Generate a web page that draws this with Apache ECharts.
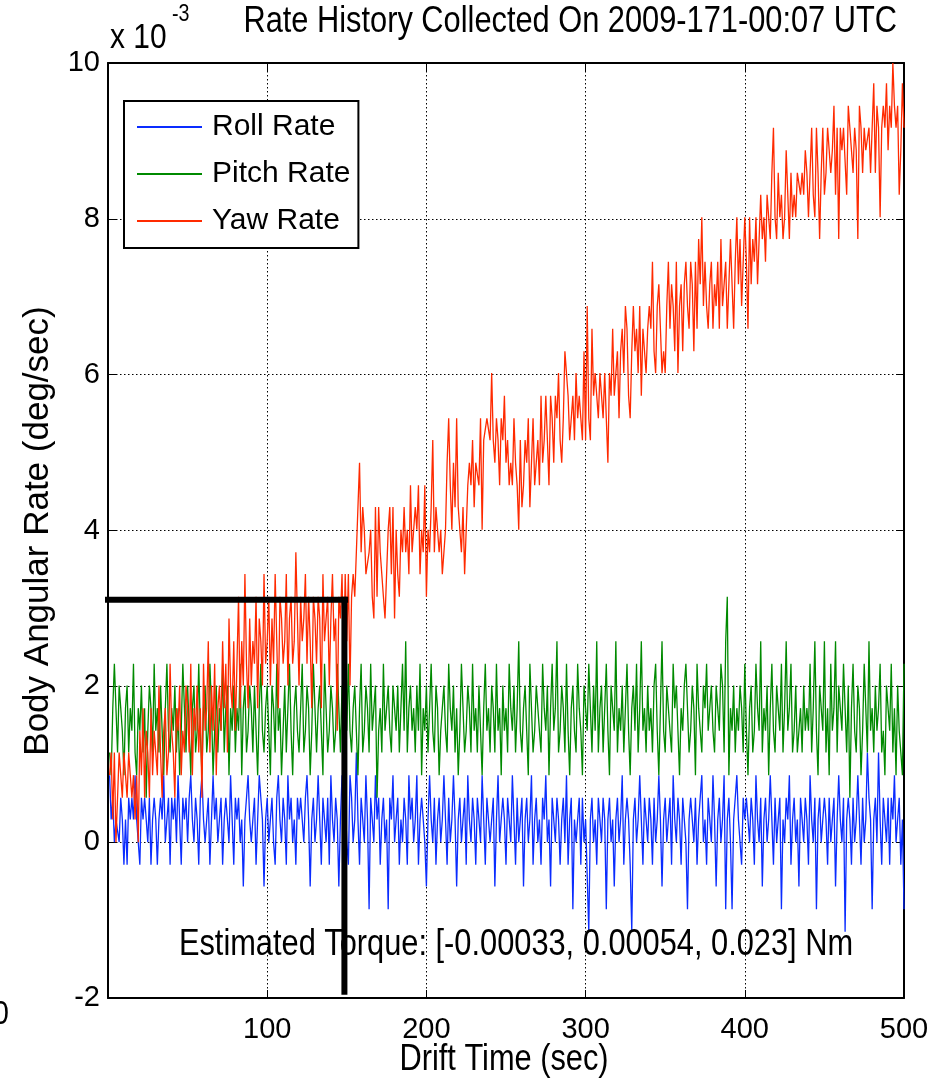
<!DOCTYPE html>
<html>
<head>
<meta charset="utf-8">
<script src="https://cdn.jsdelivr.net/npm/echarts@6/dist/echarts.min.js"></script>
<style>
html,body{margin:0;padding:0;background:#fff;}
#chart{width:948px;height:1081px;}
</style>
</head>
<body>
<div id="chart"></div>
<script>
// ---- Data (units: 1e-3 deg/sec), one sample per second, t = 1..500 ----
const rollRate = [
0.86,0.29,0.57,0.00,0.29,0.29,0.00,0.57,0.29,-0.29,
0.29,-0.29,0.57,0.29,0.57,0.29,0.86,0.29,0.29,-0.29,
0.57,0.29,0.57,0.29,0.00,0.57,-0.29,0.29,0.57,0.29,
-0.29,0.29,0.57,0.29,0.86,0.00,0.29,0.57,-0.29,0.57,
0.29,0.57,0.00,0.86,0.29,-0.29,0.57,0.29,0.57,0.00,
0.57,0.86,0.29,0.00,0.57,0.29,-0.29,0.57,0.86,0.29,
0.00,0.29,0.57,-0.29,0.29,0.86,0.29,0.57,0.00,0.29,
0.57,-0.29,0.29,0.57,0.29,0.00,0.86,0.29,-0.29,0.57,
0.29,0.57,0.00,0.29,-0.57,0.29,0.57,0.86,0.29,0.00,
0.29,0.57,-0.29,0.29,0.86,0.57,0.29,-0.57,0.29,0.57,
0.00,0.29,0.57,0.00,-0.29,0.57,0.86,0.29,0.00,0.57,
0.29,-0.29,0.86,0.29,0.57,0.00,0.29,-0.29,0.57,0.29,
0.57,0.29,0.00,0.57,0.86,0.29,-0.57,0.29,0.57,0.00,
0.29,0.86,0.29,-0.29,0.57,0.29,0.00,0.57,-0.29,0.86,
0.29,0.00,0.57,0.29,-0.57,0.29,0.86,0.29,0.57,0.00,
-0.29,0.86,0.57,0.00,0.29,1.15,0.29,-0.29,0.57,0.29,
0.00,0.86,0.29,-0.86,0.57,0.29,0.00,0.86,0.29,0.57,
-0.29,0.29,0.57,0.00,0.29,-0.86,0.57,0.29,0.86,0.00,
0.29,0.57,-0.29,0.29,0.00,0.57,0.29,-0.29,0.86,0.29,
0.57,0.00,0.29,0.86,-0.29,0.29,0.57,0.29,0.00,-0.57,
0.29,0.86,0.29,0.00,0.57,-0.29,0.29,0.57,0.00,0.29,
0.86,0.29,-0.29,0.57,0.00,0.29,0.86,0.29,-0.57,0.29,
0.57,0.00,0.29,0.57,-0.29,0.86,0.29,0.00,0.57,0.29,
-0.29,0.57,0.29,0.00,0.86,0.29,-0.29,0.57,0.29,0.00,
0.29,0.57,-0.57,0.29,0.86,0.00,0.29,0.57,0.29,-0.29,
0.57,0.29,0.00,0.86,0.29,-0.29,0.57,0.00,0.29,0.57,
-0.57,0.29,0.57,0.00,0.29,0.86,-0.29,0.29,0.57,0.00,
0.29,-0.29,0.57,0.29,0.86,0.00,0.29,-0.57,0.57,0.29,
0.00,0.57,0.29,-0.29,0.29,0.57,0.00,0.86,-0.29,0.29,
0.57,-0.86,0.29,0.00,0.29,0.57,-0.29,0.57,0.00,0.29,
0.29,-1.15,0.29,0.57,0.00,0.29,-0.29,0.57,0.29,0.00,
0.57,0.29,-0.86,0.29,0.57,0.00,0.29,-0.57,0.29,0.57,
0.00,0.29,0.86,-0.29,0.29,0.57,0.29,-0.29,-1.15,0.29,
0.57,0.00,0.29,0.86,0.29,-0.29,0.57,0.29,0.00,0.57,
0.29,-0.29,0.57,0.00,0.29,0.86,0.29,-0.57,0.29,0.57,
0.00,0.29,0.57,-0.29,0.86,0.29,0.00,0.57,0.29,-0.29,
0.57,0.29,0.00,-0.86,0.29,0.57,0.29,0.00,0.57,-0.29,
0.29,0.57,0.86,0.00,0.29,-0.29,0.57,0.29,0.00,0.86,
0.29,-0.57,0.29,0.57,0.00,0.29,0.86,-0.86,0.29,0.57,
0.00,-0.86,0.29,0.57,0.86,0.29,0.00,-0.29,0.57,0.29,
0.57,0.29,0.00,0.57,0.29,-0.29,0.86,0.29,0.00,0.57,
-0.57,0.29,0.57,0.00,0.29,0.86,0.29,-0.29,0.57,0.00,
0.29,0.57,-0.86,0.29,0.00,0.57,0.29,0.86,-0.29,0.29,
0.57,0.00,0.29,-0.57,0.57,0.29,0.00,0.57,0.29,-0.29,
0.86,0.29,0.00,0.57,-0.86,0.29,0.57,0.00,0.29,0.57,
0.29,-0.29,0.57,0.00,0.29,0.57,-0.57,0.29,0.86,0.29,
0.00,0.57,-1.15,0.29,0.57,0.29,-0.29,0.57,0.00,0.29,
0.86,0.29,-0.29,0.57,0.00,0.29,1.15,0.57,0.29,-0.86,
0.29,0.57,0.00,1.15,0.29,-0.29,0.57,0.29,0.00,0.57,
-0.29,0.57,0.29,0.86,0.00,0.29,0.57,-0.29,0.29,-0.86
];
const pitchRate = [
1.15,0.86,1.72,2.29,1.72,1.15,2.01,1.72,1.43,0.86,
1.72,2.01,1.15,1.72,1.43,2.29,1.15,0.86,1.72,1.43,
2.01,1.15,1.72,0.57,1.43,2.01,1.72,1.15,2.29,1.43,
1.72,1.15,2.01,1.43,0.86,1.72,2.29,1.43,1.15,1.72,
1.43,2.01,1.15,1.72,0.86,1.43,2.29,1.72,1.15,2.01,
1.43,0.86,1.72,2.01,1.15,1.43,2.29,1.43,0.86,1.72,
2.01,1.15,1.43,2.29,1.72,0.86,1.43,2.01,1.15,1.72,
1.43,2.29,1.15,1.72,2.01,0.86,1.72,1.43,2.01,1.15,
1.72,1.43,2.29,0.86,1.72,2.01,1.15,1.43,2.01,1.72,
1.15,2.01,1.43,0.86,1.72,2.29,1.43,1.15,1.72,2.01,
1.43,0.86,2.01,1.72,1.15,2.29,1.43,1.72,0.86,1.43,
2.01,1.15,1.72,2.29,1.43,0.86,1.72,2.01,1.43,1.15,
1.72,2.29,1.15,1.43,2.01,1.72,0.86,1.43,2.29,1.72,
1.15,1.72,2.01,1.43,0.86,2.29,1.72,1.15,1.43,2.01,
1.72,1.15,1.43,2.29,1.72,1.15,2.01,0.86,1.72,1.43,
2.29,1.43,1.15,1.72,2.01,1.43,0.86,1.72,2.29,1.15,
1.43,2.01,1.72,1.15,2.29,1.43,1.72,2.01,0.57,1.43,
1.72,1.15,2.29,1.43,1.72,2.01,1.43,1.15,2.01,1.72,
1.43,2.01,1.15,1.72,2.29,1.43,2.58,1.15,1.72,2.01,
1.43,1.72,1.15,2.01,1.43,2.29,0.86,1.72,1.43,2.01,
1.15,1.72,2.29,1.43,1.15,2.01,1.72,0.86,1.43,1.72,
2.01,1.43,1.15,2.29,1.72,1.43,2.01,1.15,1.72,0.86,
1.43,2.29,1.72,1.15,1.43,2.01,1.72,1.15,2.29,1.43,
1.72,1.15,2.01,1.43,0.86,1.72,2.29,1.43,1.72,1.15,
2.01,1.72,1.15,2.29,1.43,1.72,0.86,2.01,1.43,1.72,
1.15,2.29,1.72,1.43,2.01,1.15,1.72,2.58,1.43,1.15,
1.72,2.01,1.43,0.86,2.29,1.72,1.15,1.43,2.01,1.72,
1.43,1.15,2.29,1.72,1.43,2.01,0.86,1.72,2.29,1.43,
1.72,2.58,1.15,1.43,2.01,1.72,1.15,2.29,1.43,0.86,
1.72,2.01,1.43,1.15,2.29,1.72,1.43,0.86,2.01,1.72,
1.43,2.29,1.72,1.15,2.01,1.43,2.58,1.15,1.72,2.01,
1.15,1.72,2.29,1.43,0.86,2.01,1.72,1.43,2.58,1.15,
1.72,1.43,2.01,1.15,1.72,2.29,1.43,0.86,1.72,2.01,
1.43,2.29,1.15,1.72,2.58,1.43,1.72,1.15,2.01,1.43,
1.72,1.15,2.01,2.29,1.43,0.86,1.72,2.58,1.43,1.15,
2.01,1.72,1.43,1.15,2.29,1.72,2.01,1.43,0.86,1.72,
1.43,2.01,2.29,1.72,1.15,1.43,2.01,1.72,0.86,2.29,
1.72,1.43,1.15,2.01,1.72,2.29,1.43,1.72,2.01,1.43,
1.15,2.01,1.72,1.43,2.29,2.01,1.15,2.58,3.15,0.86,
1.72,1.43,2.01,1.15,1.72,1.43,2.01,1.72,1.15,2.29,
1.43,0.86,1.72,2.01,1.15,1.43,2.29,1.72,1.43,2.58,
1.15,1.72,1.43,2.01,0.86,1.72,2.29,1.43,1.15,2.01,
1.72,1.43,2.29,1.15,1.72,2.58,1.43,1.72,2.29,1.15,
1.43,2.01,1.15,1.43,1.72,1.15,2.01,1.43,1.72,1.43,
2.29,1.15,1.72,2.58,1.43,0.86,2.01,1.72,1.43,2.58,
1.15,1.72,0.86,2.29,1.43,1.72,2.58,1.15,2.01,1.72,
1.43,2.29,1.72,1.15,2.01,0.57,1.72,2.29,1.43,1.15,
2.01,1.72,0.86,1.43,2.29,1.72,1.15,2.58,1.43,1.72,
1.15,2.01,1.43,1.72,2.29,1.15,1.43,0.86,2.01,1.72,
1.43,2.29,1.15,1.72,0.86,2.01,1.43,1.15,0.86,2.29
];
const yawRate = [
0.86,1.15,0.29,1.15,0.00,0.57,1.15,0.86,0.57,1.15,
0.86,0.57,1.15,0.86,0.57,0.86,0.29,0.86,0.00,1.43,
0.86,1.72,0.57,1.43,1.15,0.57,1.72,0.86,1.43,1.15,
0.86,2.01,1.15,0.57,1.43,1.72,0.86,1.15,2.29,1.43,
1.15,0.57,1.72,1.43,2.01,0.86,1.43,1.15,2.01,1.72,
1.15,2.29,0.86,1.72,1.43,2.01,1.15,1.72,0.57,2.29,
1.43,1.72,2.58,1.15,2.01,1.43,2.29,0.86,1.72,2.01,
1.43,2.58,1.72,2.29,1.15,2.87,2.01,1.72,2.58,1.43,
2.29,3.15,1.72,2.58,2.01,3.44,2.29,1.72,2.87,2.01,
2.58,2.29,3.15,1.72,2.87,2.58,2.01,3.44,2.29,2.58,
3.15,2.01,2.87,2.29,3.44,2.58,1.72,3.15,2.87,2.29,
2.58,3.44,2.01,2.87,3.15,2.29,2.58,3.72,2.87,2.01,
3.15,2.58,2.87,3.44,2.29,3.15,2.58,1.72,3.15,2.87,
2.29,3.15,2.87,1.72,3.44,2.58,2.87,3.15,2.01,2.87,
3.44,2.58,2.87,1.43,3.15,2.87,3.44,2.29,3.44,2.58,
3.44,2.01,3.15,3.44,3.15,3.72,4.30,4.87,3.72,4.30,
4.01,3.44,3.44,3.72,4.01,3.15,2.87,4.30,3.15,4.30,
3.72,3.72,3.15,2.87,3.44,4.01,4.30,3.44,4.30,2.87,
4.01,3.44,3.15,4.01,3.72,4.30,3.72,4.01,3.44,4.58,
3.72,3.72,4.30,4.01,4.58,3.44,4.01,3.72,4.58,3.15,
4.01,3.72,4.30,5.16,3.72,4.30,4.30,3.72,4.01,3.44,
3.72,4.01,4.87,5.44,4.58,4.01,4.87,4.30,5.44,4.30,
4.01,3.72,4.30,3.44,4.01,4.58,4.87,4.58,5.16,4.30,
4.87,4.87,4.58,5.44,4.01,5.16,5.16,5.44,5.44,5.16,
6.02,5.16,4.87,5.44,5.16,4.58,5.44,5.16,5.73,4.87,
5.16,4.58,4.87,4.58,5.44,4.87,4.58,4.01,5.16,4.30,
4.58,5.16,4.87,5.44,4.30,4.87,5.44,4.58,4.87,5.16,
4.58,5.73,4.87,5.16,5.73,5.16,4.58,5.73,5.44,4.87,
5.73,5.44,6.02,5.16,4.87,5.44,6.30,6.30,5.73,5.16,
5.44,5.73,5.16,6.02,5.44,5.73,5.44,5.16,6.30,5.16,
6.88,5.44,5.16,6.59,5.73,6.02,5.73,5.44,6.02,5.73,
5.44,6.02,5.44,4.87,6.02,5.73,6.59,5.73,6.02,6.30,
5.44,6.30,6.59,6.02,6.88,6.59,5.73,5.44,6.30,6.88,
6.30,6.59,6.02,6.88,5.73,6.59,6.30,6.02,6.59,6.88,
6.59,7.45,6.30,6.02,6.88,7.16,6.59,6.02,6.30,6.02,
6.88,7.45,6.59,7.16,6.88,6.30,7.45,6.02,6.88,7.16,
6.30,7.16,7.45,6.88,6.59,7.45,7.16,6.30,7.45,6.59,
7.74,7.16,8.02,6.88,7.45,6.88,6.59,7.16,7.45,6.59,
7.16,6.88,7.45,6.59,7.74,6.88,7.16,7.45,6.59,7.16,
7.74,7.16,6.59,7.45,8.02,7.16,7.74,6.88,7.45,8.02,
7.45,6.59,8.02,7.16,7.74,7.45,8.02,7.16,7.74,8.31,
7.74,8.02,7.45,8.31,8.02,7.74,8.59,9.17,8.02,7.74,
8.59,8.02,8.31,7.74,8.02,8.88,8.31,7.74,8.59,8.02,
8.31,8.02,8.59,8.59,8.31,8.59,8.31,8.88,8.59,8.02,
8.59,9.17,8.31,8.02,9.17,8.59,7.74,8.59,9.17,8.31,
8.59,9.17,8.88,8.59,8.88,9.45,8.31,9.17,7.74,9.17,
8.88,9.17,9.17,8.31,9.45,9.45,8.88,8.59,9.17,8.88,
7.74,9.45,9.17,8.59,9.17,8.88,8.88,9.17,8.59,9.17,
9.74,8.59,9.45,9.17,8.02,9.17,9.45,9.17,9.74,8.88,
9.45,9.17,10.0,9.45,9.17,9.45,8.31,8.88,9.74,9.17
];
const seriesNames = ['Roll Rate', 'Pitch Rate', 'Yaw Rate'];
const seriesColors = ['#0a2cff', '#008a00', '#ff2a00'];
// Thick black annotation lines [drift time, rate]
const markerH = [[-5, 3.11], [149, 3.11]];
const markerV = [[148.5, 3.11], [148.5, -1.92]];
const xTicks = {min: 0, max: 500, interval: 100};
const yTicks = {min: -2, max: 10, interval: 2};
const titleText = 'Rate History Collected On 2009-171-00:07 UTC';
const torqueText = 'Estimated Torque: [-0.00033, 0.00054, 0.023] Nm';

const FONT = "'Liberation Sans',Arial,Helvetica,sans-serif";
const SQ = 0.855; // horizontal condensation of the original lettering

const toXY = arr => arr.map((v, i) => [i + 1, v]);
const chart = echarts.init(document.getElementById('chart'), null, {renderer: 'canvas'});

const gridLine = {show: true, lineStyle: {color: '#000', width: 1, type: [1.5, 2.5]}};
const axisLine = {show: true, onZero: false, lineStyle: {color: '#000', width: 2}};
const tickIn = {show: true, inside: true, length: 8, lineStyle: {color: '#000', width: 1}};

function txt(text, x, y, size, align, extra) {
  return Object.assign({
    type: 'text', x: x, y: y, z: 30, scaleX: SQ, scaleY: 1,
    style: {text: text, fill: '#000', font: size + 'px ' + FONT,
            align: align, verticalAlign: 'middle', textAlign: align, textVerticalAlign: 'middle'}
  }, extra || {});
}

chart.setOption({
  animation: false,
  backgroundColor: '#fff',
  grid: {left: 108, right: 44, top: 63, bottom: 83, containLabel: false},
  xAxis: [
    {type: 'value', min: xTicks.min, max: xTicks.max, interval: xTicks.interval, position: 'bottom',
     axisLine: axisLine, axisTick: tickIn, splitLine: gridLine,
     axisLabel: {showMinLabel: false, margin: 17, color: '#000', fontSize: 29, fontFamily: FONT}},
    {type: 'value', min: xTicks.min, max: xTicks.max, interval: xTicks.interval, position: 'top',
     axisLine: axisLine, axisTick: tickIn, splitLine: {show: false}, axisLabel: {show: false}}
  ],
  yAxis: [
    {type: 'value', min: yTicks.min, max: yTicks.max, interval: yTicks.interval, position: 'left',
     axisLine: axisLine, axisTick: tickIn, splitLine: gridLine,
     axisLabel: {margin: 8, color: '#000', fontSize: 29, fontFamily: FONT}},
    {type: 'value', min: yTicks.min, max: yTicks.max, interval: yTicks.interval, position: 'right',
     axisLine: axisLine, axisTick: tickIn, splitLine: {show: false}, axisLabel: {show: false}}
  ],
  legend: {
    orient: 'vertical', left: 124, top: 101,
    data: seriesNames, icon: 'rect', itemWidth: 65, itemHeight: 2, itemGap: 5,
    padding: [5, 8, 6, 13],
    backgroundColor: '#fff', borderColor: '#000', borderWidth: 2,
    textStyle: {fontSize: 30, fontFamily: FONT, color: '#000', lineHeight: 42, padding: [0, 0, 0, 5]},
    selectedMode: false, z: 20
  },
  series: [
    {name: seriesNames[0], type: 'line', data: toXY(rollRate), showSymbol: false, symbol: 'none',
     lineStyle: {color: seriesColors[0], width: 1.3}, itemStyle: {color: seriesColors[0]}, z: 3},
    {name: seriesNames[1], type: 'line', data: toXY(pitchRate), showSymbol: false, symbol: 'none',
     lineStyle: {color: seriesColors[1], width: 1.3}, itemStyle: {color: seriesColors[1]}, z: 4},
    {name: seriesNames[2], type: 'line', data: toXY(yawRate), showSymbol: false, symbol: 'none',
     lineStyle: {color: seriesColors[2], width: 1.3}, itemStyle: {color: seriesColors[2]}, z: 5},
    {name: 'markH', type: 'line', data: markerH, symbol: 'none', clip: false,
     lineStyle: {color: '#000', width: 6, cap: 'square'}, z: 8},
    {name: 'markV', type: 'line', data: markerV, symbol: 'none', clip: false,
     lineStyle: {color: '#000', width: 6, cap: 'square'}, z: 8}
  ],
  graphic: [
    txt(titleText, 897, 22, 36, 'right'),
    txt('x 10', 110, 38, 35, 'left'),
    txt('-3', 172, 15, 23, 'left'),
    {type: 'text', x: 38, y: 531, rotation: Math.PI / 2, z: 30,
     style: {text: 'Body Angular Rate (deg/sec)', fill: '#000', font: '35px ' + FONT,
             align: 'center', verticalAlign: 'middle', textAlign: 'center', textVerticalAlign: 'middle'}},
    txt('Drift Time (sec)', 504, 1060, 36, 'center'),
    txt(torqueText, 516, 945, 36, 'center'),
    txt('0', 9, 1015, 34, 'right')
  ]
});
</script>
</body>
</html>
